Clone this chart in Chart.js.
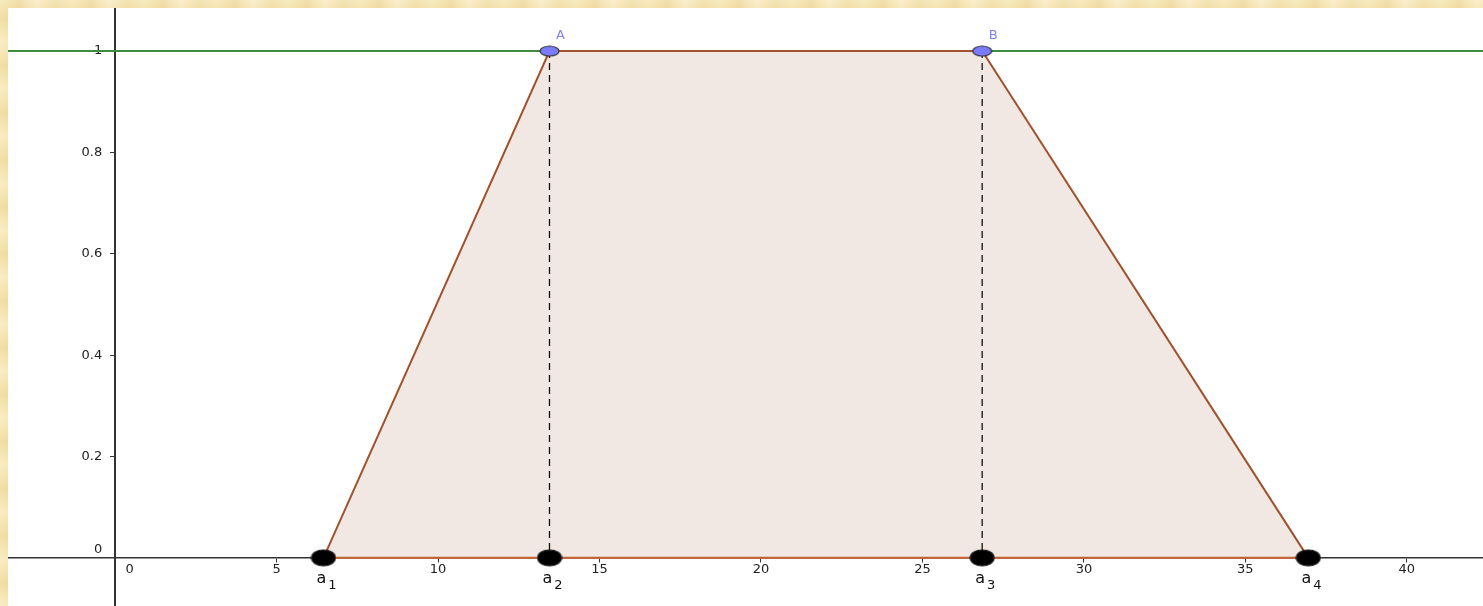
<!DOCTYPE html>
<html>
<head>
<meta charset="utf-8">
<script src="https://cdn.jsdelivr.net/npm/chart.js@4.4.0/dist/chart.umd.min.js"></script>
<style>
  html, body { margin: 0; padding: 0; }
  body {
    width: 1483px; height: 606px; overflow: hidden; position: relative;
    background:
      repeating-linear-gradient(0deg, rgba(255,250,225,0.35) 0px, rgba(230,200,120,0.25) 23px, rgba(255,250,225,0.35) 47px),
      repeating-linear-gradient(90deg, #f7e7b6 0px, #eed69b 19px, #f9edc8 37px, #f0dba4 55px, #f7e7b6 72px);
  }
  #marco { position: absolute; left: 8px; top: 8px; width: 1475px; height: 598px; background: #fff; }
</style>
</head>
<body>
<div id="marco"><canvas id="grafico"></canvas></div>
<script>
// Puntos de la función de pertenencia trapezoidal
const etiquetasBase = ["a1", "a2", "a3", "a4"];
const valoresX = [6.45, 13.45, 26.85, 36.95];
const valoresY = [0, 1, 1, 0];
const etiquetasCima = ["A", "B"];

// Marcas de los ejes
const ticksX = [0, 5, 10, 15, 20, 25, 30, 35, 40];
const ticksY = [0, 0.2, 0.4, 0.6, 0.8, 1];
const rangoX = [-3.32, 42.36];
const rangoY = [-0.095, 1.085];

Chart.defaults.font.family = "'DejaVu Sans', sans-serif";

// Elipses para los puntos
function elipse(w, h, relleno, borde) {
  const c = document.createElement("canvas");
  c.width = w; c.height = h;
  const g = c.getContext("2d");
  g.beginPath();
  g.ellipse(w / 2, h / 2, w / 2 - 1, h / 2 - 1, 0, 0, Math.PI * 2);
  g.fillStyle = relleno;
  g.fill();
  g.lineWidth = 1.2;
  g.strokeStyle = borde;
  g.stroke();
  return c;
}
const elipseNegra = elipse(26, 18, "#000", "#222");
const elipseAzul = elipse(21, 12, "#7b7bff", "#333");

const trapecio = valoresX.map((x, i) => ({ x: x, y: valoresY[i] }));
const cima = trapecio.filter(p => p.y === 1);
const base = trapecio.map(p => ({ x: p.x, y: 0 }));

// sin relleno extra alrededor del área del gráfico
const sinPadding = s => { s.paddingLeft = 0; s.paddingRight = 0; s.paddingTop = 0; s.paddingBottom = 0; };

// Etiquetas a1..a4, A y B
const etiquetas = {
  id: "etiquetas",
  afterDatasetsDraw(chart) {
    const { ctx, scales: { x, y } } = chart;
    ctx.save();
    ctx.textAlign = "center";
    ctx.textBaseline = "alphabetic";
    ctx.fillStyle = "#111";
    base.forEach((p, i) => {
      const px = x.getPixelForValue(p.x);
      const py = y.getPixelForValue(0);
      const txt = etiquetasBase[i];
      ctx.font = "16px 'DejaVu Sans'";
      ctx.fillText(txt[0], px - 2, py + 25);
      ctx.font = "13px 'DejaVu Sans'";
      ctx.fillText(txt.slice(1), px + 9, py + 31);
    });
    ctx.fillStyle = "#8282ff";
    ctx.font = "13px 'DejaVu Sans'";
    cima.forEach((p, i) => {
      ctx.fillText(etiquetasCima[i], x.getPixelForValue(p.x) + 11, y.getPixelForValue(p.y) - 12);
    });
    ctx.restore();
  }
};

new Chart(document.getElementById("grafico"), {
  type: "line",
  data: {
    datasets: [
      { data: base, showLine: false, pointStyle: elipseNegra, pointRadius: 6, order: 0 },
      { data: cima, showLine: false, pointStyle: elipseAzul, pointRadius: 6, order: 1 },
      { data: [{ x: valoresX[1], y: 1 }, { x: valoresX[1], y: 0 }], borderColor: "#111", borderWidth: 1.3,
        borderDash: [7, 5], pointRadius: 0, order: 2 },
      { data: [{ x: valoresX[2], y: 1 }, { x: valoresX[2], y: 0 }], borderColor: "#111", borderWidth: 1.3,
        borderDash: [7, 5], pointRadius: 0, order: 2 },
      { data: [base[0], base[3]], borderColor: "#c5602d", borderWidth: 2, pointRadius: 0, order: 3 },
      { data: trapecio, borderColor: "#a0522d", borderWidth: 2, backgroundColor: "#f2e8e3",
        fill: "origin", pointRadius: 0, tension: 0, order: 4 },
      { data: [{ x: rangoX[0], y: 1 }, { x: rangoX[1], y: 1 }], borderColor: "#3f8c3f", borderWidth: 2,
        pointRadius: 0, order: 6 }
    ]
  },
  options: {
    responsive: true,
    maintainAspectRatio: false,
    animation: false,
    layout: { padding: 0, autoPadding: false },
    plugins: { legend: { display: false }, tooltip: { enabled: false } },
    scales: {
      x: {
        type: "linear",
        min: rangoX[0],
        max: rangoX[1],
        position: { y: 0 },
        afterBuildTicks: s => { s.ticks = ticksX.map(v => ({ value: v })); },
        afterFit: sinPadding,
        grid: { drawOnChartArea: false, tickLength: 4, color: "#333" },
        border: { color: "#333", width: 1.5 },
        ticks: {
          autoSkip: false, maxRotation: 0, padding: 0, color: "#222", font: { size: 13 },
          callback: v => (v === 0 ? "       0" : String(v))
        }
      },
      y: {
        type: "linear",
        min: rangoY[0],
        max: rangoY[1],
        position: { x: 0 },
        afterBuildTicks: s => { s.ticks = ticksY.map(v => ({ value: v })); },
        afterFit: sinPadding,
        grid: { drawOnChartArea: false, tickLength: 4, color: "#333" },
        border: { color: "#333", width: 2 },
        ticks: {
          color: "#222", font: { size: 13 },
          callback: v => (v === 0 ? ["0\u2002\u2002", ""] : String(Math.round(v * 10) / 10) + "\u2002\u2002")
        }
      }
    }
  },
  plugins: [etiquetas]
});
</script>
</body>
</html>
